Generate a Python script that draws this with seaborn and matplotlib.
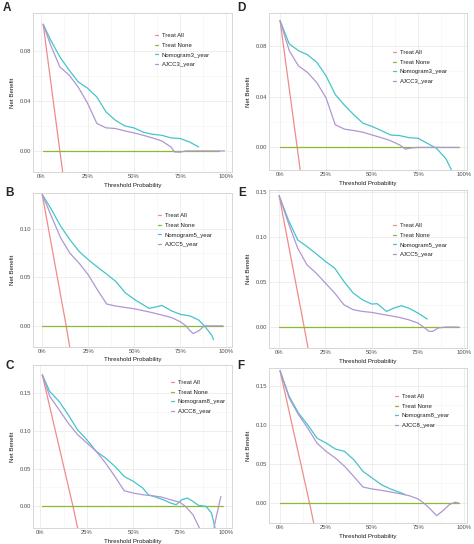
import matplotlib
matplotlib.use("Agg")
import matplotlib.pyplot as plt
import pandas as pd
import seaborn as sns

# ---- data ----
# A: 3-year, training
a_all_x = [0.01, 0.10, 0.14]
a_all_y = [0.101, 0.0, -0.044]
a_none_x = [0.01, 0.96]
a_nomo_x = [0.01, 0.05, 0.10, 0.15, 0.20, 0.25, 0.30, 0.35, 0.40, 0.45, 0.50,
            0.55, 0.60, 0.65, 0.70, 0.75, 0.80, 0.85]
a_nomo_y = [0.101, 0.0885, 0.075, 0.0645, 0.055, 0.050, 0.043, 0.031, 0.0245,
            0.020, 0.0184, 0.015, 0.0133, 0.0125, 0.0104, 0.0099, 0.0072, 0.0032]
a_ajcc_x = [0.01, 0.05, 0.10, 0.15, 0.20, 0.25, 0.30, 0.35, 0.40, 0.45, 0.50,
            0.55, 0.60, 0.65, 0.70, 0.72, 0.75, 0.78, 0.99]
a_ajcc_y = [0.101, 0.0845, 0.067, 0.0605, 0.0507, 0.038, 0.0219, 0.0184, 0.0179,
            0.016, 0.0144, 0.0125, 0.0104, 0.008, 0.0032, -0.0008, -0.001, 0.0, 0.0]

# D: 3-year, validation
d_all_x = [0.0, 0.093, 0.13]
d_all_y = [0.100, 0.0, -0.04]
d_none_x = [0.0, 0.97]
d_nomo_x = [0.0, 0.05, 0.10, 0.15, 0.20, 0.25, 0.30, 0.35, 0.40, 0.45, 0.50,
            0.55, 0.60, 0.65, 0.70, 0.75, 0.80, 0.85, 0.90, 0.93]
d_nomo_y = [0.100, 0.0816, 0.0763, 0.073, 0.067, 0.0564, 0.0417, 0.0332, 0.0258,
            0.0191, 0.0165, 0.0133, 0.0098, 0.0093, 0.0077, 0.0072, 0.0032,
            -0.0008, -0.0088, -0.0175]
d_ajcc_x = [0.0, 0.05, 0.10, 0.15, 0.20, 0.25, 0.30, 0.35, 0.40, 0.45, 0.50,
            0.55, 0.60, 0.65, 0.68, 0.72, 0.75, 0.97]
d_ajcc_y = [0.100, 0.0763, 0.0643, 0.059, 0.051, 0.039, 0.0178, 0.0144, 0.0133,
            0.012, 0.0098, 0.0077, 0.0053, 0.0019, -0.0013, -0.0003, 0.0, 0.0]

# B: 5-year, training
b_all_x = [0.0, 0.13, 0.17]
b_all_y = [0.1356, 0.0, -0.045]
b_none_x = [0.0, 0.98]
b_nomo_x = [0.0, 0.05, 0.10, 0.15, 0.20, 0.25, 0.30, 0.35, 0.40, 0.45, 0.50,
            0.55, 0.58, 0.62, 0.65, 0.70, 0.75, 0.80, 0.85, 0.88, 0.92, 0.93]
b_nomo_y = [0.1356, 0.120, 0.1028, 0.0889, 0.0768, 0.0682, 0.0606, 0.0533,
            0.0457, 0.0343, 0.0273, 0.0215, 0.018, 0.0197, 0.0211, 0.0156,
            0.0118, 0.0104, 0.0059, 0.0, -0.0097, -0.0142]
b_ajcc_x = [0.0, 0.05, 0.10, 0.15, 0.20, 0.25, 0.30, 0.35, 0.40, 0.45, 0.50,
            0.55, 0.60, 0.65, 0.70, 0.75, 0.78, 0.80, 0.82, 0.85, 0.88, 0.98]
b_ajcc_y = [0.1356, 0.113, 0.0907, 0.075, 0.0647, 0.0526, 0.037, 0.0225, 0.0204,
            0.019, 0.0176, 0.0156, 0.0135, 0.0111, 0.0087, 0.0042, 0.0, -0.0045,
            -0.008, -0.005, 0.0, 0.0]

# E: 5-year, validation
e_all_x = [0.0, 0.135, 0.175]
e_all_y = [0.146, 0.0, -0.045]
e_none_x = [0.0, 0.97]
e_nomo_x = [0.0, 0.05, 0.10, 0.15, 0.20, 0.25, 0.30, 0.35, 0.40, 0.45, 0.50,
            0.53, 0.58, 0.62, 0.66, 0.70, 0.75, 0.80]
e_nomo_y = [0.146, 0.119, 0.097, 0.0896, 0.0815, 0.073, 0.0656, 0.0507, 0.0378,
            0.0304, 0.0256, 0.026, 0.0174, 0.0211, 0.0237, 0.0211, 0.0156, 0.0089]
e_ajcc_x = [0.0, 0.05, 0.10, 0.15, 0.20, 0.25, 0.30, 0.35, 0.40, 0.45, 0.50,
            0.55, 0.60, 0.65, 0.70, 0.75, 0.78, 0.81, 0.83, 0.86, 0.90, 0.97]
e_ajcc_y = [0.146, 0.1156, 0.0878, 0.0693, 0.060, 0.0489, 0.0378, 0.0248, 0.0193,
            0.0174, 0.0163, 0.0144, 0.0126, 0.0107, 0.0081, 0.0044, 0.0, -0.0048,
            -0.0048, -0.001, 0.0, 0.0]

# C: 8-year, training
c_all_x = [0.01, 0.175, 0.21]
c_all_y = [0.174, 0.0, -0.04]
c_none_x = [0.01, 0.98]
c_nomo_x = [0.01, 0.05, 0.10, 0.15, 0.20, 0.25, 0.30, 0.35, 0.40, 0.45, 0.50,
            0.55, 0.58, 0.62, 0.66, 0.70, 0.73, 0.76, 0.79, 0.82, 0.85, 0.89,
            0.92, 0.94]
c_nomo_y = [0.174, 0.152, 0.139, 0.121, 0.101, 0.088, 0.0728, 0.064, 0.053,
            0.0397, 0.033, 0.0243, 0.0154, 0.0123, 0.0088, 0.0044, 0.0022,
            0.0088, 0.011, 0.0066, 0.0013, 0.0, -0.0088, -0.03]
c_ajcc_x = [0.01, 0.05, 0.10, 0.15, 0.20, 0.25, 0.30, 0.35, 0.40, 0.45, 0.50,
            0.55, 0.60, 0.65, 0.70, 0.75, 0.78, 0.82, 0.85, 0.88, 0.92, 0.94,
            0.97]
c_ajcc_y = [0.174, 0.1456, 0.128, 0.110, 0.0948, 0.0838, 0.0728, 0.0573, 0.0397,
            0.0207, 0.0176, 0.0154, 0.0141, 0.0124, 0.0088, 0.0053, 0.0, -0.011,
            -0.026, -0.045, -0.045, -0.02, 0.013]

# F: 8-year, validation
f_all_x = [0.0, 0.16, 0.20]
f_all_y = [0.169, 0.0, -0.045]
f_none_x = [0.0, 0.97]
f_nomo_x = [0.0, 0.05, 0.10, 0.15, 0.20, 0.25, 0.30, 0.35, 0.40, 0.45, 0.50,
            0.55, 0.60, 0.65, 0.68]
f_nomo_y = [0.169, 0.136, 0.115, 0.100, 0.083, 0.0767, 0.069, 0.066, 0.0554,
            0.0405, 0.032, 0.0234, 0.0179, 0.0136, 0.0107]
f_ajcc_x = [0.0, 0.05, 0.10, 0.15, 0.20, 0.25, 0.30, 0.35, 0.40, 0.45, 0.50,
            0.55, 0.60, 0.65, 0.70, 0.75, 0.78, 0.81, 0.85, 0.88, 0.92, 0.95,
            0.97]
f_ajcc_y = [0.169, 0.134, 0.113, 0.0959, 0.0767, 0.066, 0.0575, 0.0469, 0.034,
            0.0204, 0.0179, 0.0162, 0.0141, 0.0119, 0.0094, 0.0051, 0.0, -0.0064,
            -0.0162, -0.0107, -0.002, 0.001, 0.0]

x_ticks = [0, 0.25, 0.5, 0.75, 1.0]
x_tick_labels = ["0%", "25%", "50%", "75%", "100%"]

COLORS = {"all": "#F08C88", "none": "#8DB832", "nomo": "#45C4CA", "ajcc": "#B097D2"}

W, H = 474, 544

sns.set_style("white")
plt.rcParams["font.family"] = ["Liberation Sans", "DejaVu Sans"]

fig = plt.figure(figsize=(W / 100, H / 100), dpi=100)


def px_axes(x0, y0, x1, y1):
    # pixel box (top-left origin) -> figure axes
    return fig.add_axes([x0 / W, 1 - y1 / H, (x1 - x0) / W, (y1 - y0) / H])


def draw_panel(box, letter, letter_xy, year, curves, ylim, yticks, xlim, legend_xy):
    ax = px_axes(*box)
    all_x, all_y, none_x, nomo_x, nomo_y, ajcc_x, ajcc_y = curves

    sns.lineplot(x=all_x, y=all_y, ax=ax, color=COLORS["all"], lw=0.9,
                 sort=False, estimator=None, label="Treat All")
    sns.lineplot(x=none_x, y=[0.0] * len(none_x), ax=ax, color=COLORS["none"],
                 lw=0.9, sort=False, estimator=None, label="Treat None")
    sns.lineplot(x=nomo_x, y=nomo_y, ax=ax, color=COLORS["nomo"], lw=0.9,
                 sort=False, estimator=None, label=f"Nomogram{year}_year")
    sns.lineplot(x=ajcc_x, y=ajcc_y, ax=ax, color=COLORS["ajcc"], lw=0.9,
                 sort=False, estimator=None, label=f"AJCC{year}_year")

    ax.set_xlim(*xlim)
    ax.set_ylim(*ylim)
    ax.set_xticks(x_ticks)
    ax.set_xticklabels(x_tick_labels)
    ax.set_xticks([0.125, 0.375, 0.625, 0.875], minor=True)
    ax.set_yticks(yticks)
    ax.set_yticklabels([f"{t:.2f}" for t in yticks])
    ymid = [(a + b) / 2 for a, b in zip(yticks[:-1], yticks[1:])]
    ax.set_yticks(ymid, minor=True)
    ax.grid(True, which="major", color="#EBEBEB", lw=0.6)
    ax.grid(True, which="minor", color="#F4F4F4", lw=0.4)
    ax.tick_params(axis="both", which="both", length=0, labelsize=4.2,
                   labelcolor="#4D4D4D", pad=1.5)
    for s in ax.spines.values():
        s.set_color("#D6D6D6")
        s.set_linewidth(0.7)

    ax.set_xlabel("Threshold Probability", fontsize=4.4, color="#1A1A1A")
    ax.set_ylabel("Net Benefit", fontsize=4.4, color="#1A1A1A")
    ax.xaxis.set_label_coords(0.5, -0.068)
    ax.yaxis.set_label_coords(-0.09, 0.5)

    leg = ax.legend(loc="upper left", bbox_to_anchor=(legend_xy[0] / W, 1 - legend_xy[1] / H),
                    bbox_transform=fig.transFigure, frameon=False, fontsize=4.3,
                    handlelength=0.5, handletextpad=0.6, labelspacing=0.75,
                    borderpad=0, borderaxespad=0)
    for t in leg.get_texts():
        t.set_color("#222222")

    fig.text(letter_xy[0] / W, 1 - letter_xy[1] / H, letter, fontsize=8.5,
             fontweight="bold", ha="left", va="center")
    return ax


draw_panel((33, 13, 232, 172), "A", (3, 8), 3,
           (a_all_x, a_all_y, a_none_x, a_nomo_x, a_nomo_y, a_ajcc_x, a_ajcc_y),
           (-0.0168, 0.110), [0.0, 0.04, 0.08], (-0.045, 1.03), (155, 33))
draw_panel((269, 13, 467, 170), "D", (237, 8), 3,
           (d_all_x, d_all_y, d_none_x, d_nomo_x, d_nomo_y, d_ajcc_x, d_ajcc_y),
           (-0.0178, 0.106), [0.0, 0.04, 0.08], (-0.06, 1.015), (393, 50))
draw_panel((33, 193, 232, 347), "B", (5, 193), 5,
           (b_all_x, b_all_y, b_none_x, b_nomo_x, b_nomo_y, b_ajcc_x, b_ajcc_y),
           (-0.0218, 0.137), [0.0, 0.05, 0.10], (-0.05, 1.03), (158, 213))
draw_panel((269, 190, 467, 348), "E", (238, 193), 5,
           (e_all_x, e_all_y, e_none_x, e_nomo_x, e_nomo_y, e_ajcc_x, e_ajcc_y),
           (-0.0233, 0.1525), [0.0, 0.05, 0.10, 0.15], (-0.055, 1.015), (393, 223))
draw_panel((33, 365, 232, 528), "C", (5, 366), 8,
           (c_all_x, c_all_y, c_none_x, c_nomo_x, c_nomo_y, c_ajcc_x, c_ajcc_y),
           (-0.0286, 0.187), [0.0, 0.05, 0.10, 0.15], (-0.04, 1.03), (171, 380))
draw_panel((269, 368, 467, 523), "F", (237, 366), 8,
           (f_all_x, f_all_y, f_none_x, f_nomo_x, f_nomo_y, f_ajcc_x, f_ajcc_y),
           (-0.0256, 0.1726), [0.0, 0.05, 0.10, 0.15], (-0.06, 1.015), (395, 394))

fig.savefig("out.png", dpi=100)
